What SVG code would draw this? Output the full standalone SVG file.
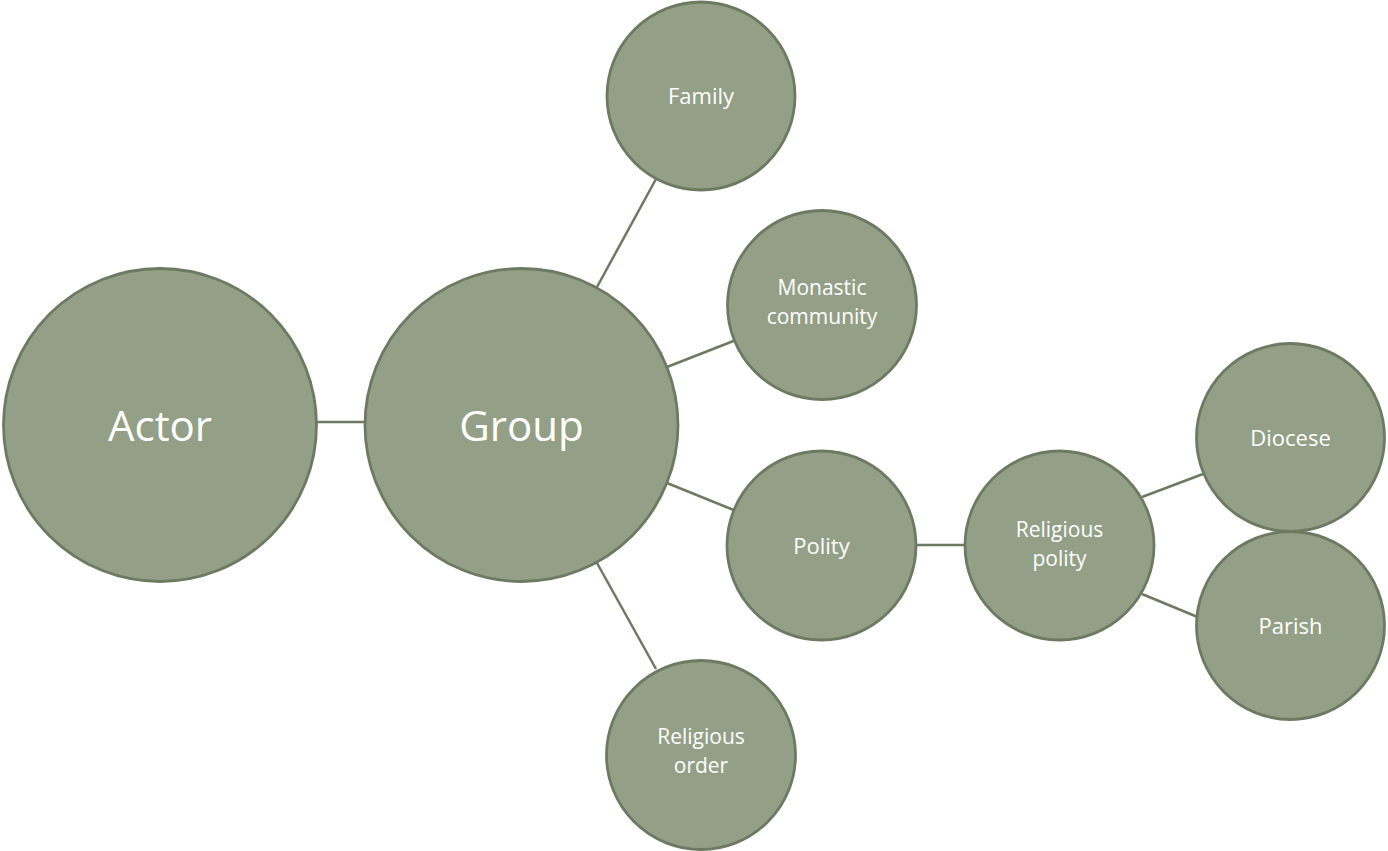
<svg xmlns="http://www.w3.org/2000/svg" width="1388" height="851" viewBox="0 0 1388 851">
<style>
.n{fill:#939F87;stroke:#6D7A62;stroke-width:2.8}
.c{stroke:#6D7A62;stroke-width:2.5;fill:none}
.t{font-family:"Open Sans","Noto Sans",sans-serif;fill:#fff;text-anchor:middle}
.s{font-size:22px}
.m{font-size:21px}
.b{font-size:42px}
</style>
<rect width="1388" height="851" fill="#fff"/>
<g id="connectors">
<line class="c" x1="316" y1="422" x2="365" y2="422"/>
<line class="c" x1="597" y1="287" x2="656" y2="179"/>
<line class="c" x1="667" y1="367" x2="736" y2="340"/>
<line class="c" x1="667" y1="483" x2="736" y2="511"/>
<line class="c" x1="597" y1="563" x2="656" y2="669"/>
<line class="c" x1="916" y1="545" x2="965" y2="545"/>
<line class="c" x1="1142" y1="497" x2="1203" y2="474"/>
<line class="c" x1="1142" y1="594" x2="1200" y2="618"/>
</g>
<g id="actor"><circle class="n" cx="160" cy="425" r="156.5"/><text class="t b" x="160" y="441">Actor</text></g>
<g id="group"><circle class="n" cx="521.5" cy="425" r="156.5"/><text class="t b" x="521.5" y="441">Group</text></g>
<g id="family"><circle class="n" cx="701" cy="96" r="94"/><text class="t s" x="701" y="104">Family</text></g>
<g id="monastic"><circle class="n" cx="822" cy="305" r="94.5"/><text class="t m" x="822" y="295">Monastic</text><text class="t m" x="822" y="324">community</text></g>
<g id="polity"><circle class="n" cx="821.5" cy="545.5" r="94.5"/><text class="t s" x="821.5" y="554">Polity</text></g>
<g id="religious-order"><circle class="n" cx="701" cy="755" r="94.5"/><text class="t m" x="701" y="744">Religious</text><text class="t m" x="701" y="773">order</text></g>
<g id="religious-polity"><circle class="n" cx="1059.5" cy="545.5" r="94.5"/><text class="t m" x="1059.5" y="537">Religious</text><text class="t m" x="1059.5" y="566">polity</text></g>
<g id="diocese"><circle class="n" cx="1290.5" cy="437.5" r="94"/><text class="t s" x="1290.5" y="446">Diocese</text></g>
<g id="parish"><circle class="n" cx="1290.5" cy="625.5" r="94"/><text class="t s" x="1290.5" y="634">Parish</text></g>
</svg>
